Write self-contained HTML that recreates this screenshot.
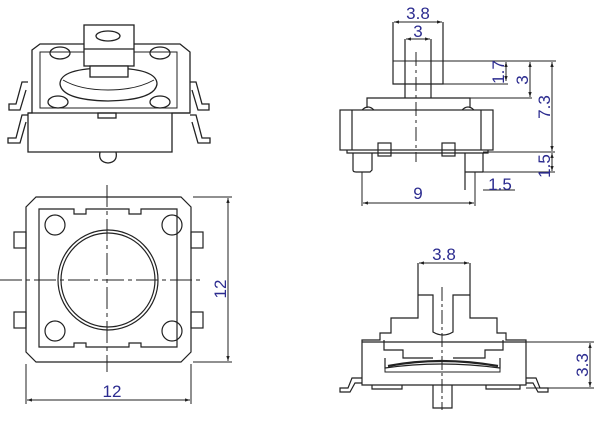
<!DOCTYPE html>
<html><head><meta charset="utf-8"><style>
html,body{margin:0;padding:0;background:#fff;width:600px;height:421px;overflow:hidden}
svg{display:block}
text{font-family:"Liberation Sans",sans-serif;fill:#2b2b8f;stroke:none;font-size:17px;font-weight:normal}
</style></head><body>
<svg width="600" height="421" viewBox="0 0 600 421" xmlns="http://www.w3.org/2000/svg" fill="none" stroke="#222" stroke-width="1.2">
<defs><marker id="a" viewBox="0 0 6 6" refX="6" refY="3" markerWidth="5" markerHeight="5" orient="auto-start-reverse"><path d="M0,1 L6,3 L0,5z" fill="#222" stroke="none"/></marker></defs>

<!-- Perspective view -->
<g stroke-width="1.3">
<path d="M32,50 L40,44 L180,44 L190,52 L190,113 L172,113 L172,152 L28,152 L28,113 L32,113 Z"/>
<path d="M28,113 L190,113"/>
<path d="M40,52 L177,52 L177,108 L40,108 Z" stroke-width="1"/>
<path d="M60,84 Q60,68 108,68 Q157,68 157,84 Q155,100 108,101 Q62,100 60,84 Z" fill="#fff"/>
<path d="M63,80 Q80,90 108,90 Q136,90 154,80" stroke-width="1"/>
<rect x="84" y="25" width="50" height="41" fill="#fff"/>
<path d="M84,49 L134,49"/>
<ellipse cx="108" cy="36" rx="12" ry="5"/>
<rect x="90" y="66" width="38" height="11" fill="#fff"/>
<ellipse cx="60" cy="53" rx="10" ry="6"/><ellipse cx="160" cy="53" rx="10" ry="6"/>
<ellipse cx="58" cy="102" rx="10" ry="6"/><ellipse cx="160" cy="102" rx="10" ry="6"/>
<rect x="98" y="113" width="18" height="5"/>
<path d="M100,152 Q98,162 108,163 Q118,162 116,152"/>
<path d="M28,82 L22,82 L16,104 L9,104 L9,110 L20,110 L26,90"/>
<path d="M28,115 L22,115 L16,138 L8,138 L8,143 L20,143 L26,122"/>
<path d="M190,82 L196,82 L202,104 L209,104 L209,110 L198,110 L192,90"/>
<path d="M190,115 L196,115 L202,138 L210,138 L210,143 L198,143 L192,122"/>
</g>

<!-- Top view -->
<path d="M36,197 L181,197 L191,207 L191,352 L181,362 L36,362 L26,352 L26,207 Z"/>
<path d="M39,209 L74,209 L74,214 L86,214 L86,209 L129,209 L129,214 L141,214 L141,209 L177,209 L177,347 L141,347 L141,343 L129,343 L129,347 L86,347 L86,343 L74,343 L74,347 L39,347 Z"/>
<circle cx="55" cy="225" r="10"/><circle cx="172" cy="225" r="10"/>
<circle cx="55" cy="331" r="10"/><circle cx="172" cy="331" r="10"/>
<circle cx="108" cy="280" r="50"/><circle cx="108" cy="280" r="47"/>
<rect x="14" y="232" width="12" height="16"/><rect x="14" y="312" width="12" height="16"/>
<rect x="191" y="232" width="12" height="16"/><rect x="191" y="312" width="12" height="16"/>
<g stroke-width="1">
<path d="M107,185 L107,372" stroke-dasharray="22,4,4,4"/>
<path d="M0,280 L200,280" stroke-dasharray="22,4,4,4"/>
<path d="M26,364 L26,404 M191,364 L191,404 M193,197 L232,197 M193,362 L232,362"/>
<path d="M27,400 L190,400" marker-start="url(#a)" marker-end="url(#a)"/>
<path d="M228,198 L228,361" marker-start="url(#a)" marker-end="url(#a)"/>
</g>
<text x="112" y="397" text-anchor="middle" font-size="19">12</text>
<text transform="translate(226,289) rotate(-90)" text-anchor="middle" font-size="19">12</text>

<!-- Side view top right -->
<g stroke-width="1.2">
<path d="M393,61 L393,84 L443,84 L443,61"/>
<path d="M405,39 L405,98 M431,39 L431,98 M393,22 L393,61 M443,22 L443,61"/>
<path d="M416,52 L416,162" stroke-dasharray="14,4,3,4" stroke-width="1"/>
<path d="M367,108 L367,98 L470,98 L470,108"/>
<path d="M393,61 L556,61 M470,98 L532,98" stroke-width="1"/>
<rect x="340" y="110" width="153" height="40"/>
<path d="M352,110 L352,150 M481,110 L481,150"/>
<path d="M362,110 Q368,104 374,110 M462,110 Q468,104 474,110"/>
<rect x="378" y="143" width="13" height="13"/><rect x="442" y="143" width="13" height="13"/>
<path d="M347,150 L347,153 L488,153 L488,150"/>
<path d="M353,153 L353,170 Q353,172 356,172 L370,172 L372,170 L372,153"/>
<path d="M465,153 L465,190 M483,153 L483,172 M465,172 L483,172"/>
<g stroke-width="1">
<path d="M362,172 L362,206 M475,172 L475,206 M483,172 L555,172 M483,152 L555,152 M483,190 L515,190"/>
<path d="M394,22 L442,22" marker-start="url(#a)" marker-end="url(#a)"/>
<path d="M406,39 L430,39" marker-start="url(#a)" marker-end="url(#a)"/>
<path d="M363,203 L474,203" marker-start="url(#a)" marker-end="url(#a)"/>
<path d="M506,62 L506,81" marker-start="url(#a)" marker-end="url(#a)"/>
<path d="M530,62 L530,97" marker-start="url(#a)" marker-end="url(#a)"/>
<path d="M552,62 L552,151" marker-start="url(#a)" marker-end="url(#a)"/>
<path d="M552,153 L552,171" marker-start="url(#a)" marker-end="url(#a)"/>
<path d="M443,84 L508,84"/>
</g>
</g>
<text x="418" y="19" text-anchor="middle">3.8</text>
<text x="418" y="37" text-anchor="middle">3</text>
<text x="418" y="199" text-anchor="middle">9</text>
<text x="500" y="190" text-anchor="middle">1.5</text>
<text transform="translate(504,72) rotate(-90)" text-anchor="middle">1.7</text>
<text transform="translate(528,80) rotate(-90)" text-anchor="middle">3</text>
<text transform="translate(550,107) rotate(-90)" text-anchor="middle">7.3</text>
<text transform="translate(550,166) rotate(-90)" text-anchor="middle">1.5</text>

<!-- Section view bottom right -->
<g stroke-width="1.2">
<path d="M418,263 L418,318 L391,318 L391,333 L380,333 L380,340 L362,340 L362,385 L526,385 L526,340 L506,340 L506,333 L497,333 L497,318 L470,318 L470,263"/>
<path d="M418,295 L433,295 L433,332 Q443,338 453,332 L453,295 L470,295"/>
<path d="M362,342 L526,342"/>
<path d="M384,340 L384,350 L403,350 L403,358 L433,358 M503,340 L503,350 L485,350 L485,358 L453,358"/>
<path d="M385,358 L385,368 Q440,360 500,368 L500,358"/>
<path d="M385,368 L385,372 L500,372 L500,368" stroke-width="1"/>
<path d="M388,366 Q440,356 498,366" stroke-width="2.2"/>
<path d="M372,385 L372,389 L402,389 L402,385 M486,385 L486,389 L520,389 L520,385"/>
<path d="M433,385 L433,408 L452,408 L452,385"/>
<path d="M362,378 L352,378 L348,388 L340,388 L340,392 L350,392 L355,383 L362,383"/>
<path d="M526,378 L536,378 L540,388 L548,388 L548,392 L538,392 L533,383 L526,383"/>
<path d="M442,287 L442,410" stroke-width="1" stroke-dasharray="14,3,3,3"/>
<g stroke-width="1">
<path d="M419,263 L469,263" marker-start="url(#a)" marker-end="url(#a)"/>
<path d="M526,342 L594,342 M526,388 L594,388"/>
<path d="M590,343 L590,387" marker-start="url(#a)" marker-end="url(#a)"/>
</g>
</g>
<text x="444" y="260" text-anchor="middle">3.8</text>
<text transform="translate(588,365) rotate(-90)" text-anchor="middle">3.3</text>
</svg>
</body></html>
